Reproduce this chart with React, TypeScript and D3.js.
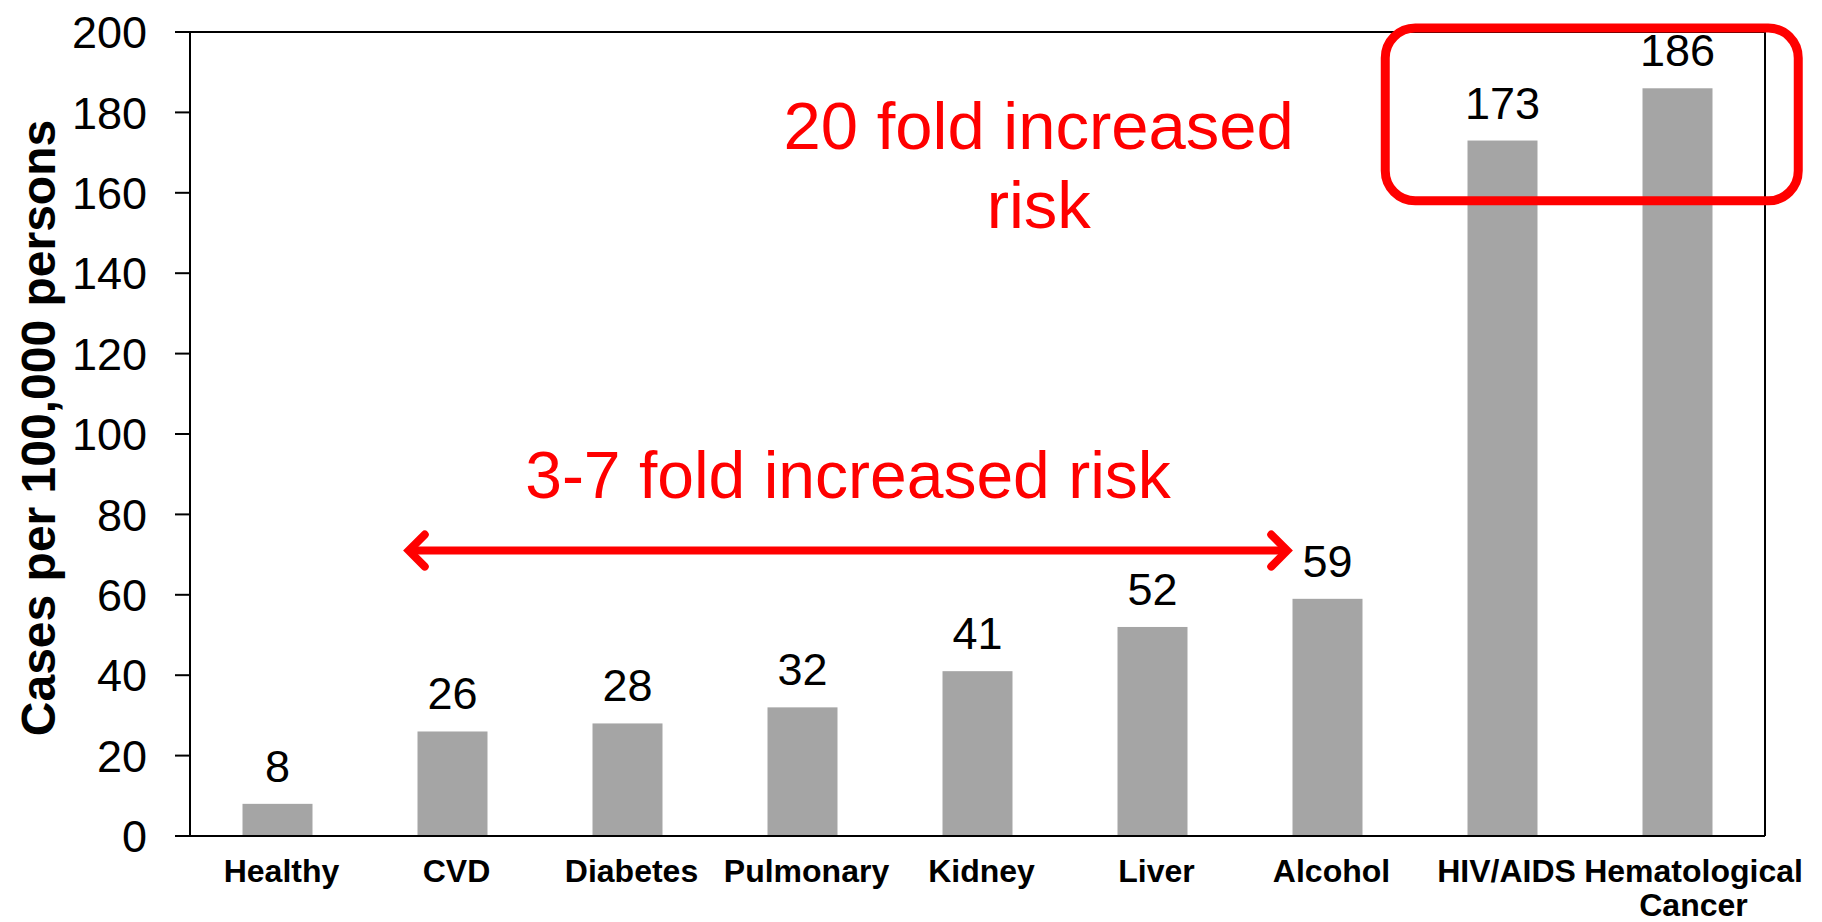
import * as d3 from 'd3'

const categories = [
  ['Healthy'],
  ['CVD'],
  ['Diabetes'],
  ['Pulmonary'],
  ['Kidney'],
  ['Liver'],
  ['Alcohol'],
  ['HIV/AIDS'],
  ['Hematological', 'Cancer'],
]
const values = [8, 26, 28, 32, 41, 52, 59, 173, 186]
const yDomain = [0, 200]
const yTitle = 'Cases per 100,000 persons'

// annotations, in category-index units (x) and data units (y)
const arrowNote = { from: 1.25, to: 6.27, y: 71, label: '3-7 fold increased risk', labelX: 3.76, labelY: 84 }
const boxNote = { x0: 6.83, x1: 9.19, y0: 158, y1: 201, lines: ['20 fold increased', 'risk'], labelX: 4.85, labelY: 171 }

export default function App() {
  const width = 1822
  const height = 922
  const margin = { top: 32, right: 57, bottom: 86, left: 190 }
  const x0 = margin.left
  const x1 = width - margin.right
  const y0 = height - margin.bottom
  const y1 = margin.top

  const names = categories.map((c) => c.join(' '))
  const xScale = d3.scaleBand().domain(names).range([x0, x1]).paddingInner(0.6).paddingOuter(0.3)
  const idx = d3.scaleLinear().domain([0, categories.length]).range([x0, x1])
  const yScale = d3.scaleLinear().domain(yDomain).range([y0, y1])
  const yTicks = yScale.ticks(10)

  // label centre; the last (wide) label is pushed right so it clears its neighbour
  const labelX = (i: number) =>
    xScale(names[i])! + xScale.bandwidth() / 2 + (i === names.length - 1 ? 16 : 4)

  const red = '#FF0000'
  const ay = yScale(arrowNote.y)
  const ax0 = idx(arrowNote.from)
  const ax1 = idx(arrowNote.to)
  const head = 16

  return (
    <div style={{ position: 'absolute', left: 0, top: 0 }}>
      <svg width={width} height={height} fontFamily="'Liberation Sans', Arial, sans-serif" style={{ display: 'block', background: '#fff' }}>
        {/* bars */}
        {values.map((v, i) => (
          <rect
            key={names[i]}
            x={xScale(names[i])}
            y={yScale(v)}
            width={xScale.bandwidth()}
            height={y0 - yScale(v)}
            fill="#A5A5A5"
          />
        ))}
        {/* frame */}
        <path d={`M${x0},${y1}H${x1}V${y0}`} fill="none" stroke="#000" strokeWidth={2} />
        <path d={`M${x0},${y1}V${y0}H${x1}`} fill="none" stroke="#000" strokeWidth={2} />
        {/* y axis */}
        <g textAnchor="end" fontSize={45}>
          {yTicks.map((t) => (
            <g key={t} transform={`translate(0,${yScale(t)})`}>
              <line x1={x0 - 15} x2={x0} stroke="#000" strokeWidth={2} />
              <text x={x0 - 43} dy="0.36em" fill="#000">
                {t}
              </text>
            </g>
          ))}
        </g>
        <text
          transform={`translate(55,${(y0 + y1) / 2 - 6}) rotate(-90)`}
          textAnchor="middle"
          fontSize={48}
          fontWeight="bold"
        >
          {yTitle}
        </text>
        {/* category labels */}
        <g textAnchor="middle" fontSize={32} fontWeight="bold">
          {categories.map((lines, i) => (
            <text key={names[i]} x={labelX(i)} y={y0 + 46}>
              {lines.map((l, j) => (
                <tspan key={l} x={labelX(i)} dy={j === 0 ? 0 : 34}>
                  {l}
                </tspan>
              ))}
            </text>
          ))}
        </g>
        {/* value labels */}
        <g textAnchor="middle" fontSize={45}>
          {values.map((v, i) => (
            <text key={names[i]} x={xScale(names[i])! + xScale.bandwidth() / 2} y={yScale(v) - 22}>
              {v}
            </text>
          ))}
        </g>
        {/* 3-7 fold arrow */}
        <g stroke={red} strokeWidth={8} fill="none" strokeLinecap="round" strokeLinejoin="miter">
          <line x1={ax0 + 3} x2={ax1 - 3} y1={ay} y2={ay} />
          <path d={`M${ax0 + head},${ay - head}L${ax0},${ay}L${ax0 + head},${ay + head}`} />
          <path d={`M${ax1 - head},${ay - head}L${ax1},${ay}L${ax1 - head},${ay + head}`} />
        </g>
        <text x={idx(arrowNote.labelX)} y={yScale(arrowNote.labelY)} textAnchor="middle" fontSize={66} fill={red}>
          {arrowNote.label}
        </text>
        {/* 20 fold box */}
        <rect
          x={idx(boxNote.x0)}
          y={yScale(boxNote.y1)}
          width={idx(boxNote.x1) - idx(boxNote.x0)}
          height={yScale(boxNote.y0) - yScale(boxNote.y1)}
          rx={30}
          fill="none"
          stroke={red}
          strokeWidth={9}
        />
        <text x={idx(boxNote.labelX)} y={yScale(boxNote.labelY)} textAnchor="middle" fontSize={67} fill={red}>
          {boxNote.lines.map((l, j) => (
            <tspan key={l} x={idx(boxNote.labelX)} dy={j === 0 ? 0 : 79}>
              {l}
            </tspan>
          ))}
        </text>
      </svg>
    </div>
  )
}
